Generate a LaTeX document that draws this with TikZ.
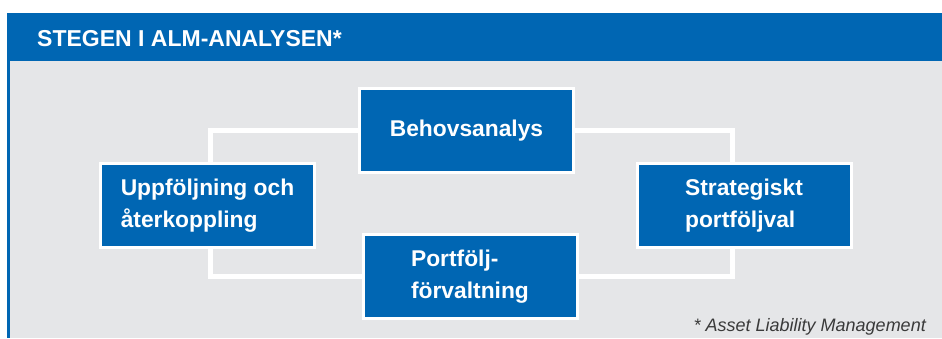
\documentclass[tikz,border=0pt]{standalone}
\usepackage{fontspec}
\setmainfont{Liberation Sans}
\usetikzlibrary{backgrounds}
\definecolor{almblue}{RGB}{0,102,179}
\definecolor{almgray}{RGB}{229,230,232}
\definecolor{notegray}{RGB}{58,58,58}
\begin{document}
\begin{tikzpicture}[x=1pt,y=-1pt,
  stepbox/.style={draw=white, line width=3pt, fill=almblue, text=white,
    font=\fontsize{22.8}{32}\selectfont\bfseries, align=left,
    minimum width=214pt, minimum height=84pt, inner sep=0pt},
  link/.style={draw=white, line width=5pt}]
\useasboundingbox (0,0) rectangle (942,338);
\node[anchor=base west, text=white, font=\fontsize{23}{27}\selectfont\bfseries, inner sep=0pt] (title) at (37,46) {STEGEN I ALM-ANALYSEN*};
\node[stepbox] (B) at (466.5,130.5) {Behovsanalys};
\node[stepbox] (U) at (207.5,205.5) {Uppföljning och\\återkoppling};
\node[stepbox] (S) at (744,205.5) {Strategiskt\\portföljval};
\node[stepbox] (P) at (470,276.5) {Portfölj-\\förvaltning};
\node[anchor=base east, text=notegray, font=\fontsize{18}{22}\selectfont\itshape, inner sep=0pt] (note) at (926,331) {* Asset Liability Management};
\begin{scope}[on background layer]
\fill[white] (0,0) rectangle (942,338);
\fill[almblue] (7,13) rectangle (942,338);
\fill[almgray] (10,61) rectangle (942,338);
\path[link] (B.west) -| ([xshift=2.5pt]U.north);
\path[link] (B.east) -| ([xshift=-11.5pt]S.north);
\path[link] ([xshift=2.5pt]U.south) |- (P.west);
\path[link] (P.east) -| ([xshift=-11.5pt]S.south);
\end{scope}
\end{tikzpicture}
\end{document}
